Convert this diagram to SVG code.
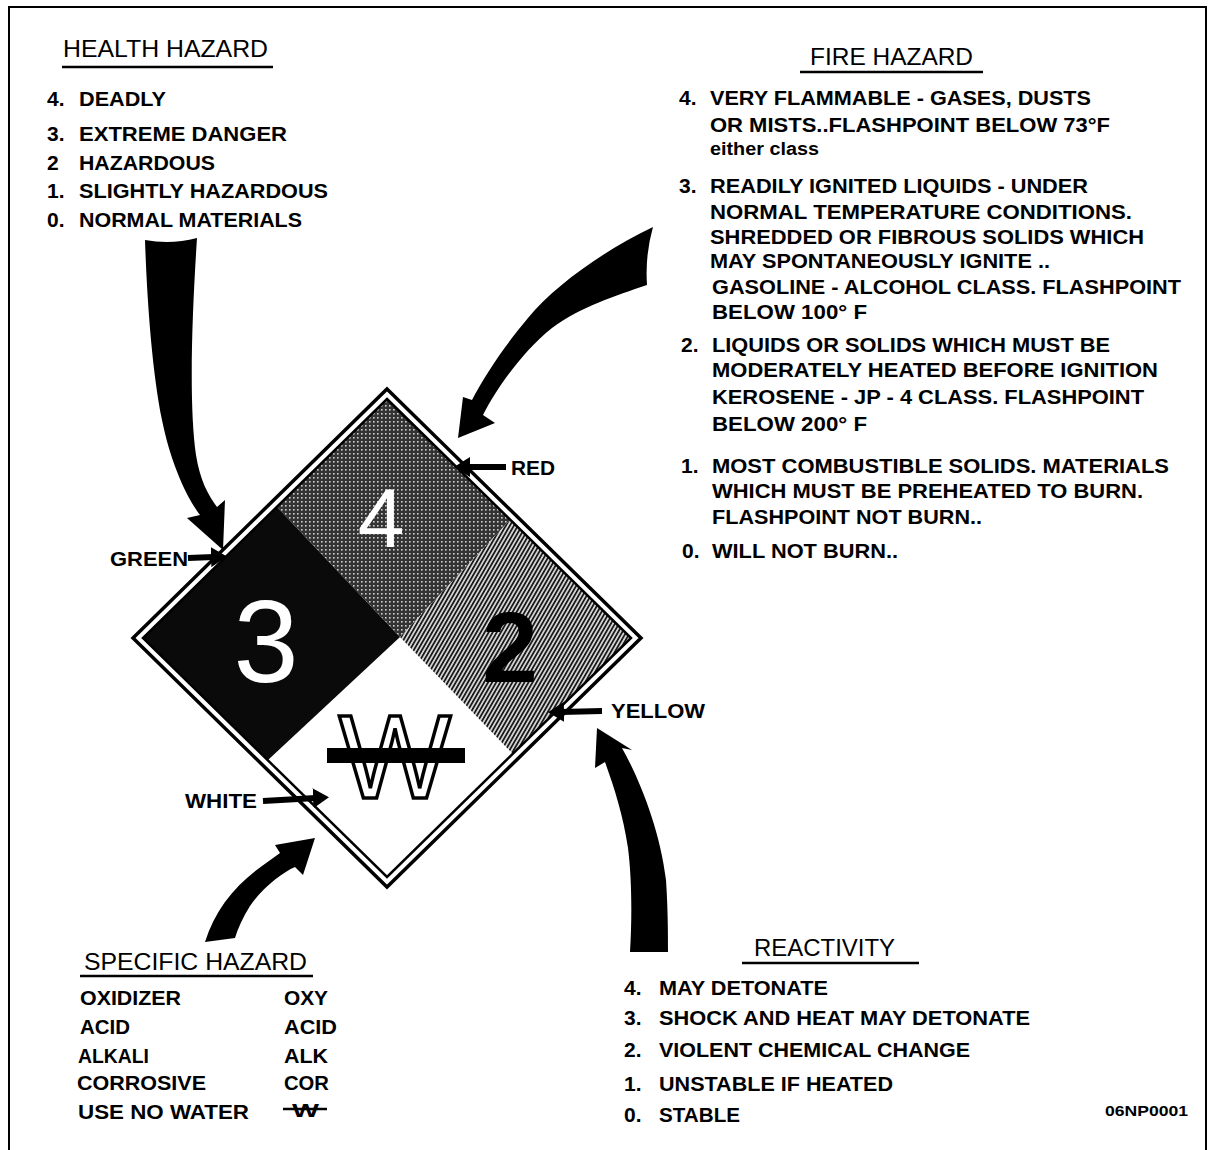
<svg xmlns="http://www.w3.org/2000/svg" width="1212" height="1150" viewBox="0 0 1212 1150">
<style>
.t{font-family:"Liberation Sans",Arial,Helvetica,sans-serif;font-weight:bold;font-size:21px;fill:#000}
.h{font-family:"Liberation Sans",Arial,Helvetica,sans-serif;font-weight:normal;font-size:24px;fill:#000}
.ul{stroke:#000;stroke-width:2.5}
.lbl{stroke:#000;stroke-width:6;fill:none;marker-end:url(#ah)}
.big{fill:#000}
.num{font-family:"Liberation Sans",Arial,Helvetica,sans-serif;text-anchor:middle}
</style>
<defs>
<marker id="ah" markerUnits="userSpaceOnUse" markerWidth="16" markerHeight="20" viewBox="0 0 16 20" refX="3" refY="10" orient="auto">
<path d="M0,0 L16,10 L0,20 Z" fill="#000"/>
</marker>
<pattern id="dots" width="4" height="4" patternUnits="userSpaceOnUse">
<rect width="4" height="4" fill="#333"/>
<rect x="1" y="1" width="1.6" height="1.6" fill="#cfcfcf"/>
</pattern>
<pattern id="hatch" width="3.5" height="3.5" patternUnits="userSpaceOnUse" patternTransform="rotate(30)">
<rect width="3.5" height="3.5" fill="#d8d8d8"/>
<rect width="1.8" height="3.5" fill="#1a1a1a"/>
</pattern>
</defs>
<rect width="1212" height="1150" fill="#fff"/>
<path d="M9,1150 L9,7 L1206,7 L1206,1150" fill="none" stroke="#000" stroke-width="2"/>

<g id="health-hazard">
<text class="h" x="63" y="57" textLength="205" lengthAdjust="spacingAndGlyphs">HEALTH HAZARD</text>
<line class="ul" x1="62" y1="67" x2="273" y2="67"/>
<text class="t" x="47" y="106">4.</text><text class="t" x="79" y="106" textLength="87" lengthAdjust="spacingAndGlyphs">DEADLY</text>
<text class="t" x="47" y="141">3.</text><text class="t" x="79" y="141" textLength="208" lengthAdjust="spacingAndGlyphs">EXTREME DANGER</text>
<text class="t" x="47" y="170">2</text><text class="t" x="79" y="170" textLength="136" lengthAdjust="spacingAndGlyphs">HAZARDOUS</text>
<text class="t" x="47" y="198">1.</text><text class="t" x="79" y="198" textLength="249" lengthAdjust="spacingAndGlyphs">SLIGHTLY HAZARDOUS</text>
<text class="t" x="47" y="227">0.</text><text class="t" x="79" y="227" textLength="223" lengthAdjust="spacingAndGlyphs">NORMAL MATERIALS</text>
</g>

<g id="fire-hazard">
<text class="h" x="810" y="65" textLength="163" lengthAdjust="spacingAndGlyphs">FIRE HAZARD</text>
<line class="ul" x1="800" y1="72" x2="983" y2="72"/>
<text class="t" x="679" y="105">4.</text>
<text class="t" x="710" y="105" textLength="381" lengthAdjust="spacingAndGlyphs">VERY FLAMMABLE - GASES, DUSTS</text>
<text class="t" x="710" y="132" textLength="400" lengthAdjust="spacingAndGlyphs">OR MISTS..FLASHPOINT BELOW 73°F</text>
<text class="t" x="710" y="155" style="font-size:18px;font-weight:900" textLength="109" lengthAdjust="spacingAndGlyphs">either class</text>
<text class="t" x="679" y="193">3.</text>
<text class="t" x="710" y="193" textLength="378" lengthAdjust="spacingAndGlyphs">READILY IGNITED LIQUIDS - UNDER</text>
<text class="t" x="710" y="219" textLength="422" lengthAdjust="spacingAndGlyphs">NORMAL TEMPERATURE CONDITIONS.</text>
<text class="t" x="710" y="244" textLength="434" lengthAdjust="spacingAndGlyphs">SHREDDED OR FIBROUS SOLIDS WHICH</text>
<text class="t" x="710" y="268" textLength="340" lengthAdjust="spacingAndGlyphs">MAY SPONTANEOUSLY IGNITE ..</text>
<text class="t" x="712" y="294" textLength="469" lengthAdjust="spacingAndGlyphs">GASOLINE - ALCOHOL CLASS.  FLASHPOINT</text>
<text class="t" x="712" y="319" textLength="155" lengthAdjust="spacingAndGlyphs">BELOW 100°  F</text>
<text class="t" x="681" y="352">2.</text>
<text class="t" x="712" y="352" textLength="398" lengthAdjust="spacingAndGlyphs">LIQUIDS OR SOLIDS WHICH MUST BE</text>
<text class="t" x="712" y="377" textLength="446" lengthAdjust="spacingAndGlyphs">MODERATELY HEATED BEFORE IGNITION</text>
<text class="t" x="712" y="404" textLength="432" lengthAdjust="spacingAndGlyphs">KEROSENE - JP - 4 CLASS.  FLASHPOINT</text>
<text class="t" x="712" y="431" textLength="155" lengthAdjust="spacingAndGlyphs">BELOW 200°  F</text>
<text class="t" x="681" y="473">1.</text>
<text class="t" x="712" y="473" textLength="457" lengthAdjust="spacingAndGlyphs">MOST COMBUSTIBLE SOLIDS.  MATERIALS</text>
<text class="t" x="712" y="498" textLength="431" lengthAdjust="spacingAndGlyphs">WHICH MUST BE PREHEATED TO BURN.</text>
<text class="t" x="712" y="524" textLength="270" lengthAdjust="spacingAndGlyphs">FLASHPOINT NOT BURN..</text>
<text class="t" x="682" y="558">0.</text>
<text class="t" x="712" y="558" textLength="186" lengthAdjust="spacingAndGlyphs">WILL NOT BURN..</text>
</g>

<g id="placard">
<polygon points="387,389 641,638 387,887 133,638" fill="#fff" stroke="#000" stroke-width="3.5"/>
<polygon points="387,399 510,520 400,637 277,507" fill="url(#dots)"/>
<polygon points="143,638 277,507 400,637 268,760" fill="#0a0a0a"/>
<polygon points="510,520 631,638 513,754 400,637" fill="url(#hatch)"/>
<polygon points="387,399 631,638 387,877 143,638" fill="none" stroke="#000" stroke-width="2.5"/>
<text class="num" x="381" y="547" style="font-size:84px;fill:#fff">4</text>
<text class="num" x="266" y="682" style="font-size:117px;fill:#fff">3</text>
<text class="num" x="510" y="682" style="font-size:100px;font-weight:bold;fill:#000">2</text>
<text class="num" x="395" y="798" style="font-size:119px;fill:#fff;stroke:#000;stroke-width:3.5">W</text>
<rect x="327" y="748" width="138" height="15" fill="#000"/>
</g>

<g id="color-labels">
<text class="t" x="110" y="566" textLength="78" lengthAdjust="spacingAndGlyphs">GREEN</text>
<text class="t" x="511" y="475" textLength="44" lengthAdjust="spacingAndGlyphs">RED</text>
<text class="t" x="185" y="808" textLength="72" lengthAdjust="spacingAndGlyphs">WHITE</text>
<text class="t" x="611" y="718" textLength="94" lengthAdjust="spacingAndGlyphs">YELLOW</text>
</g>

<g id="specific-hazard">
<text class="h" x="84" y="970" textLength="223" lengthAdjust="spacingAndGlyphs">SPECIFIC HAZARD</text>
<line class="ul" x1="80" y1="976" x2="313" y2="976"/>
<text class="t" x="80" y="1005" textLength="101" lengthAdjust="spacingAndGlyphs">OXIDIZER</text>
<text class="t" x="284" y="1005" textLength="44" lengthAdjust="spacingAndGlyphs">OXY</text>
<text class="t" x="80" y="1034" textLength="50" lengthAdjust="spacingAndGlyphs">ACID</text>
<text class="t" x="284" y="1034" textLength="53" lengthAdjust="spacingAndGlyphs">ACID</text>
<text class="t" x="78" y="1063" textLength="71" lengthAdjust="spacingAndGlyphs">ALKALI</text>
<text class="t" x="284" y="1063" textLength="44" lengthAdjust="spacingAndGlyphs">ALK</text>
<text class="t" x="77" y="1090" textLength="129" lengthAdjust="spacingAndGlyphs">CORROSIVE</text>
<text class="t" x="284" y="1090" textLength="45" lengthAdjust="spacingAndGlyphs">COR</text>
<text class="t" x="78" y="1119" textLength="171" lengthAdjust="spacingAndGlyphs">USE NO WATER</text>
<text class="t" x="292" y="1117" style="font-size:18px" textLength="27" lengthAdjust="spacingAndGlyphs">W</text>
<line x1="283" y1="1109" x2="327" y2="1109" stroke="#000" stroke-width="2.5"/>
</g>

<g id="reactivity">
<text class="h" x="754" y="956" textLength="141" lengthAdjust="spacingAndGlyphs">REACTIVITY</text>
<line class="ul" x1="742" y1="963" x2="919" y2="963"/>
<text class="t" x="624" y="995">4.</text>
<text class="t" x="659" y="995" textLength="169" lengthAdjust="spacingAndGlyphs">MAY DETONATE</text>
<text class="t" x="624" y="1025">3.</text>
<text class="t" x="659" y="1025" textLength="371" lengthAdjust="spacingAndGlyphs">SHOCK AND HEAT MAY DETONATE</text>
<text class="t" x="624" y="1057">2.</text>
<text class="t" x="659" y="1057" textLength="311" lengthAdjust="spacingAndGlyphs">VIOLENT CHEMICAL CHANGE</text>
<text class="t" x="624" y="1091">1.</text>
<text class="t" x="659" y="1091" textLength="234" lengthAdjust="spacingAndGlyphs">UNSTABLE IF HEATED</text>
<text class="t" x="624" y="1122">0.</text>
<text class="t" x="659" y="1122" textLength="81" lengthAdjust="spacingAndGlyphs">STABLE</text>
</g>

<g id="figure-code">
<text class="t" x="1105" y="1116" style="font-size:15px" textLength="83" lengthAdjust="spacingAndGlyphs">06NP0001</text>
</g>

<g id="connectors">
<path class="big" d="M145,240 Q171,245 197,238 C193,300 188,400 196,455 C200,480 208,495 217,507 L225,500 L223,550 L187,518 L200,515 C185,495 170,460 162,420 C152,370 147,300 145,240 Z"/>
<path class="big" d="M653,227 C605,250 555,285 528,318 C503,348 485,375 472,400 L463,397 L458,438 L495,423 L483,415 C497,388 522,352 552,328 C582,306 615,296 647,285 Q645,255 653,227 Z"/>
<path class="big" d="M205,942 C215,910 235,885 262,866 C268,862 274,857 280,853 L275,845 L315,838 L303,875 L295,867 C283,872 262,888 250,906 C243,917 238,928 235,938 Q220,940 205,942 Z"/>
<path class="big" d="M597,728 L632,750 L622,748 C640,780 660,830 666,880 C668,910 668,935 668,952 L630,952 C632,920 632,880 628,848 C623,815 615,790 605,762 L595,768 Z"/>
<line class="lbl" x1="506" y1="467" x2="467" y2="467"/>
<line class="lbl" x1="188" y1="558" x2="214" y2="557"/>
<line class="lbl" x1="263" y1="801" x2="316" y2="798"/>
<line class="lbl" x1="602" y1="711" x2="561" y2="712"/>
</g>
</svg>
